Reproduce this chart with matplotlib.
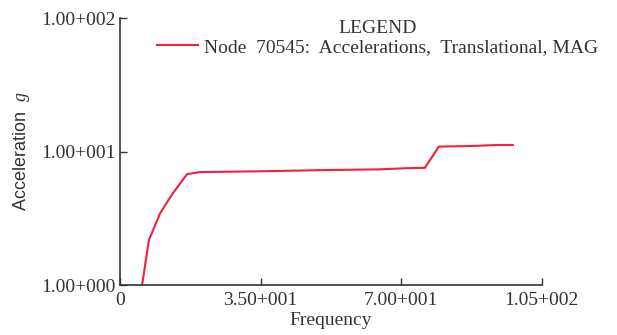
import matplotlib
matplotlib.use("Agg")
import matplotlib.pyplot as plt
from matplotlib.ticker import FixedLocator, FixedFormatter, NullLocator

plt.rcParams['font.family'] = ['Liberation Serif', 'DejaVu Serif']
plt.rcParams['mathtext.fontset'] = 'custom'
plt.rcParams['mathtext.rm'] = 'Liberation Serif'
plt.rcParams['mathtext.it'] = 'Liberation Serif:italic'

# Frequency response of node 70545 (acceleration magnitude)
freq = [5.5, 7.2, 10.0, 13.2, 16.7, 19.9, 35.0, 52.0, 64.7, 70.9, 75.9, 79.4, 87.0, 93.8, 97.8]
accel = [1.0, 2.17, 3.46, 4.89, 6.78, 7.02, 7.12, 7.28, 7.36, 7.5, 7.56, 10.9, 11.0, 11.2, 11.2]

x_ticks = [0, 35, 70, 105]
x_tick_labels = ["0", "3.50+001", "7.00+001", "1.05+002"]
y_ticks = [1, 10, 100]
y_tick_labels = ["1.00+000", "1.00+001", "1.00+002"]

TXT = "#333333"
FS = 14

fig = plt.figure(figsize=(6.17, 3.35), dpi=100)
ax = fig.add_axes([0.1945, 0.149, 0.6835, 0.797])

line, = ax.plot(freq, accel, color="#f0203c", linewidth=1.5,
                label="Node  70545:  Accelerations,  Translational, MAG")

ax.set_yscale("log")
ax.set_xlim(0, 105)
ax.set_ylim(1, 100)
ax.xaxis.set_major_locator(FixedLocator(x_ticks))
ax.xaxis.set_major_formatter(FixedFormatter(x_tick_labels))
ax.yaxis.set_major_locator(FixedLocator(y_ticks))
ax.yaxis.set_major_formatter(FixedFormatter(y_tick_labels))
ax.yaxis.set_minor_locator(NullLocator())

for side in ("top", "right"):
    ax.spines[side].set_visible(False)
for side in ("left", "bottom"):
    ax.spines[side].set_linewidth(1.2)
    ax.spines[side].set_color(TXT)

ax.tick_params(direction="in", length=5, width=1.0, labelsize=FS, colors=TXT)
ax.tick_params(axis="x", pad=5)
ax.tick_params(axis="y", pad=3)

ax.set_xlabel("Frequency", fontsize=FS, color=TXT, labelpad=2)
ax.set_ylabel(r"Acceleration  $\mathit{g}$", fontsize=13, color=TXT, labelpad=7,
              family="Liberation Sans")

leg = fig.legend(handles=[line], loc="upper center", bbox_to_anchor=(0.612, 0.982),
                 frameon=False, title="LEGEND", fontsize=FS, title_fontsize=FS,
                 handlelength=2.1, handletextpad=0.3, borderpad=0.2, labelspacing=0.1)
for t in leg.get_texts():
    t.set_color(TXT)
leg.get_title().set_color(TXT)

fig.savefig("out.png", dpi=100)
